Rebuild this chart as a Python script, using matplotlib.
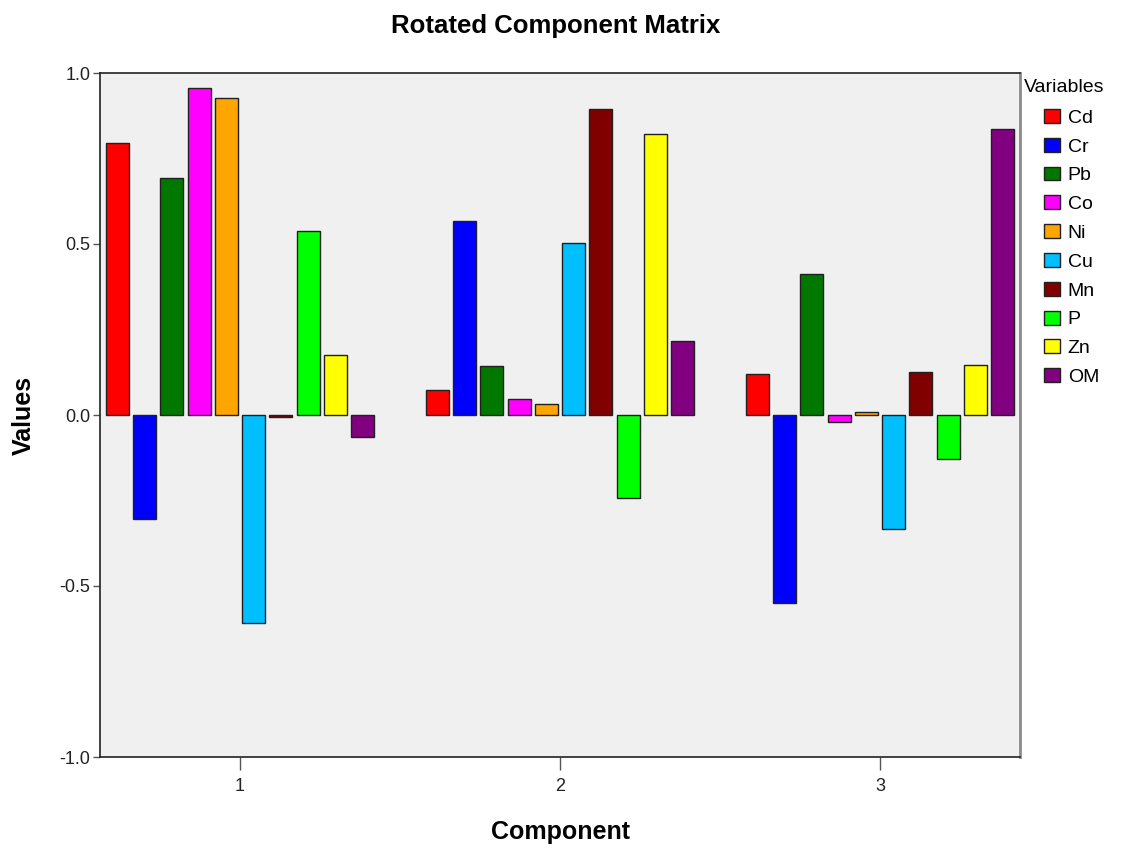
import numpy as np
import matplotlib
matplotlib.use("Agg")
import matplotlib.pyplot as plt

plt.rcParams['font.family'] = ['Liberation Sans', 'DejaVu Sans']

# loadings, one list per variable (components 1, 2, 3)
components = [1, 2, 3]
variables = ['Cd', 'Cr', 'Pb', 'Co', 'Ni', 'Cu', 'Mn', 'P', 'Zn', 'OM']
cd = [0.794, 0.072, 0.120]
cr = [-0.303, 0.566, -0.549]
pb = [0.693, 0.143, 0.413]
co = [0.955, 0.046, -0.020]
ni = [0.927, 0.031, 0.009]
cu = [-0.609, 0.503, -0.333]
mn = [-0.007, 0.895, 0.126]
p = [0.538, -0.244, -0.129]
zn = [0.175, 0.822, 0.146]
om = [-0.063, 0.217, 0.836]
loadings = [cd, cr, pb, co, ni, cu, mn, p, zn, om]

colors = ['#FF0000', '#0000FF', '#007800', '#FF00FF', '#FFA500',
          '#00BFFF', '#800000', '#00FF00', '#FFFF00', '#800080']

W, H = 1124, 850
fig = plt.figure(figsize=(W / 100, H / 100), dpi=100)
ax = fig.add_axes([100 / W, 1 - 757 / H, 920 / W, 684 / H])
ax.set_facecolor('#F0F0F0')

step = 0.0853
width = 0.072
x = np.array(components, dtype=float)
for i, (name, vals) in enumerate(zip(variables, loadings)):
    offset = (i - 4.5) * step
    ax.bar(x + offset, vals, width=width, color=colors[i],
           edgecolor='#202020', linewidth=1.0, label=name, zorder=2)

ax.set_xlim(0.5625, 3.4375)
ax.set_ylim(-1.0, 1.0)
ax.set_xticks(components)
ax.set_xticklabels([str(c) for c in components])
ax.set_yticks([-1.0, -0.5, 0.0, 0.5, 1.0])
ax.set_yticklabels(['-1.0', '-0.5', '0.0', '0.5', '1.0'])
ax.tick_params(axis='y', length=5, width=1, color='#555555', labelsize=13,
               labelcolor='#222222', pad=2)
ax.tick_params(axis='x', length=9, width=1, color='#555555', labelsize=13,
               labelcolor='#222222', pad=6)

for side in ['left', 'bottom', 'top']:
    ax.spines[side].set_color('#222222')
    ax.spines[side].set_linewidth(1.2)
ax.spines['right'].set_color('#8a8a8a')
ax.spines['right'].set_linewidth(2)

fig.text(556 / W, 1 - 26 / H, 'Rotated Component Matrix', fontsize=18.5,
         fontweight='bold', ha='center', va='center')
ax.set_xlabel('Component', fontsize=18, fontweight='bold')
ax.xaxis.set_label_coords(0.5, (757 - 820) / 684)
ax.set_ylabel('Values', fontsize=18, fontweight='bold')
ax.yaxis.set_label_coords((36 - 100) / 920, 0.5)

# legend: title as plain text, entries indented below it
fig.text(1024 / W, 1 - 88 / H, 'Variables', fontsize=14, ha='left', va='center')
leg = fig.legend(*ax.get_legend_handles_labels(), loc='upper left',
                 bbox_to_anchor=(1044 / W, 1 - 109 / H), frameon=False,
                 fontsize=14, handlelength=0.82, handleheight=0.72,
                 handletextpad=0.4, labelspacing=0.57, borderpad=0,
                 borderaxespad=0)

fig.savefig('out.png', dpi=100)
